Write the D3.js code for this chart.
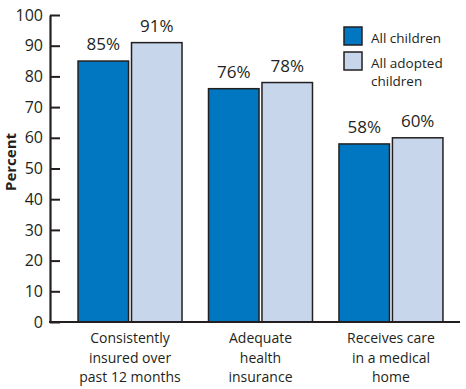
<!DOCTYPE html>
<html>
<head>
<meta charset="utf-8">
<script src="https://cdn.jsdelivr.net/npm/d3@7/dist/d3.min.js"></script>
<style>
  body { margin: 0; background: #fff; }
  text { font-family: "Open Sans", "Liberation Sans", sans-serif; fill: #231f20; }
</style>
</head>
<body>
<svg id="chart" width="466" height="389"></svg>
<script>
const categories = [
  ["Consistently", "insured over", "past 12 months"],
  ["Adequate", "health", "insurance"],
  ["Receives care", "in a medical", "home"]
];
const seriesNames = ["All children", "All adopted children"];
const allChildren = [85, 76, 58];
const allAdopted = [91, 78, 60];
const yTicks = [0, 10, 20, 30, 40, 50, 60, 70, 80, 90, 100];
const colors = ["#0077c0", "#c7d6ea"];

const svg = d3.select("#chart");
const x0 = 50, xEnd = 460, yTop = 15, yBottom = 322;

const x = d3.scaleBand()
  .domain(d3.range(categories.length))
  .range([x0, 471])
  .paddingInner(0.203)
  .paddingOuter(0.215);

const xInner = d3.scaleBand()
  .domain([0, 1])
  .range([0, x.bandwidth()])
  .paddingInner(0.055);

const y = d3.scaleLinear().domain([0, 100]).range([yBottom, yTop]);

// y axis
const yAxis = svg.append("g")
  .attr("transform", `translate(${x0},0)`)
  .call(d3.axisLeft(y).tickValues(yTicks).tickSize(-10).tickPadding(7).tickSizeOuter(0));
yAxis.select(".domain").attr("stroke", "#231f20").attr("stroke-width", 2.2);
yAxis.selectAll(".tick line").attr("stroke", "#231f20").attr("stroke-width", 2);
yAxis.selectAll(".tick text")
  .style("font-size", "16px")
  .style("font-family", "'Open Sans', sans-serif")
  .attr("fill", "#231f20");

svg.append("text")
  .attr("transform", `translate(16,162) rotate(-90)`)
  .attr("text-anchor", "middle")
  .style("font-size", "15px")
  .style("font-weight", "bold")
  .text("Percent");

// bars
const data = categories.map((c, i) => [allChildren[i], allAdopted[i]]);
const groups = svg.append("g").selectAll("g")
  .data(data)
  .join("g")
  .attr("transform", (d, i) => `translate(${x(i)},0)`);

groups.selectAll("rect")
  .data(d => d)
  .join("rect")
  .attr("x", (d, j) => xInner(j))
  .attr("width", xInner.bandwidth())
  .attr("y", d => y(d))
  .attr("height", d => y(0) - y(d))
  .attr("fill", (d, j) => colors[j])
  .attr("stroke", "#231f20")
  .attr("stroke-width", 1.5);

groups.selectAll("text.val")
  .data(d => d)
  .join("text")
  .attr("class", "val")
  .attr("x", (d, j) => xInner(j) + xInner.bandwidth() / 2)
  .attr("y", d => y(d) - 11)
  .attr("text-anchor", "middle")
  .style("font-size", "17px")
  .text(d => d + "%");

// x baseline
svg.append("line")
  .attr("x1", x0 - 1).attr("x2", xEnd)
  .attr("y1", yBottom).attr("y2", yBottom)
  .attr("stroke", "#231f20").attr("stroke-width", 2.2);

// category labels
const catLabels = svg.append("g").selectAll("text")
  .data(categories)
  .join("text")
  .attr("text-anchor", "middle")
  .attr("x", (d, i) => x(i) + x.bandwidth() / 2)
  .attr("y", 343)
  .style("font-size", "14px");
catLabels.selectAll("tspan")
  .data(d => d)
  .join("tspan")
  .attr("x", function() { return d3.select(this.parentNode).attr("x"); })
  .attr("dy", (d, k) => k === 0 ? 0 : 19.5)
  .text(d => d);

// legend
const legend = svg.append("g").attr("transform", "translate(344,27)");
const legendRows = [["All children"], ["All adopted", "children"]];
legendRows.forEach((lines, i) => {
  const g = legend.append("g").attr("transform", `translate(0,${i * 25})`);
  g.append("rect")
    .attr("width", 18).attr("height", 18)
    .attr("fill", colors[i])
    .attr("stroke", "#231f20").attr("stroke-width", 1.5);
  const t = g.append("text").attr("x", 27).attr("y", 16).style("font-size", "13.5px");
  t.selectAll("tspan").data(lines).join("tspan")
    .attr("x", 27).attr("dy", (d, k) => k === 0 ? 0 : 18)
    .text(d => d);
});
</script>
</body>
</html>
